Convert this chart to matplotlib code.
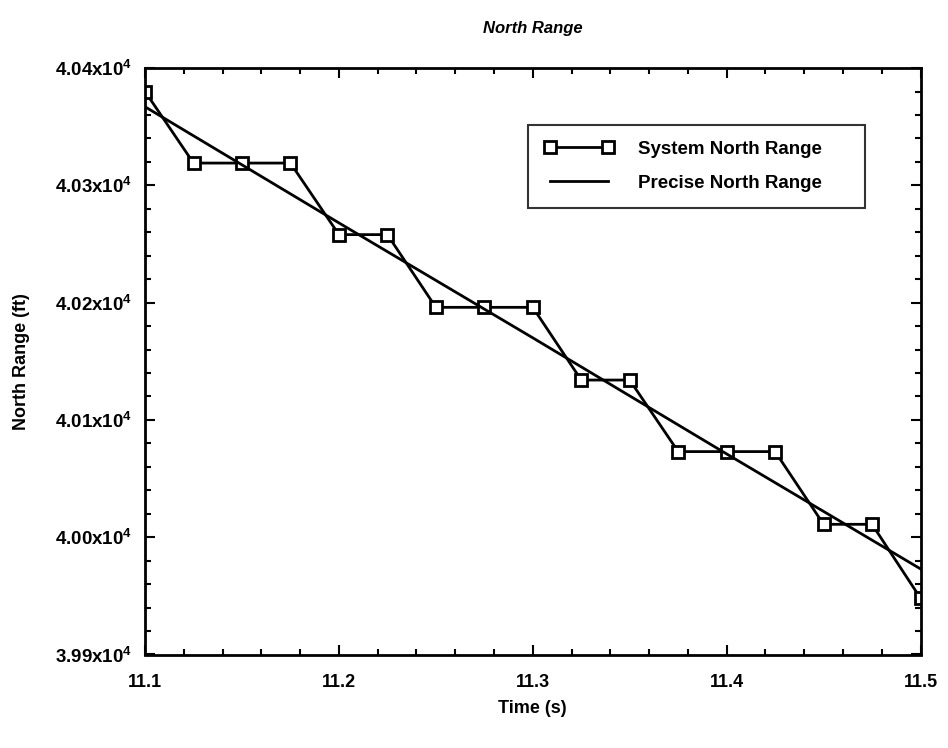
import numpy as np
import matplotlib.pyplot as plt
from matplotlib.ticker import MultipleLocator, FixedLocator, FixedFormatter

plt.rcParams['font.family'] = ['Liberation Sans', 'DejaVu Sans']
plt.rcParams['font.weight'] = 'bold'
plt.rcParams['mathtext.fontset'] = 'custom'
plt.rcParams['mathtext.rm'] = 'Liberation Sans:bold'
plt.rcParams['mathtext.default'] = 'rm'

# system (quantised) north range
t_sys = [11.1, 11.125, 11.15, 11.175, 11.2, 11.225, 11.25, 11.275, 11.3,
         11.325, 11.35, 11.375, 11.4, 11.425, 11.45, 11.475, 11.5]
n_sys = [40380, 40319, 40319, 40319, 40258, 40258, 40196, 40196, 40196,
         40134, 40134, 40073, 40073, 40073, 40011, 40011, 39948]

# precise north range
t_pre = [11.1, 11.2, 11.3, 11.4, 11.5]
n_pre = [40367, 40268, 40170, 40071, 39973]

y_ticks = [39900, 40000, 40100, 40200, 40300, 40400]
y_labels = [r'3.99x10$^{4}$', r'4.00x10$^{4}$', r'4.01x10$^{4}$',
            r'4.02x10$^{4}$', r'4.03x10$^{4}$', r'4.04x10$^{4}$']

fig = plt.figure(figsize=(9.48, 7.48), dpi=100)
ax = fig.add_axes([0.153, 0.125, 0.818, 0.784])

ax.plot(t_sys, n_sys, color='black', lw=2, marker='s', ms=9,
        mfc='white', mec='black', mew=2, label='System North Range')
ax.plot(t_pre, n_pre, color='black', lw=2, label='Precise North Range')

ax.set_xlim(11.1, 11.5)
ax.set_ylim(39900, 40400)
ax.xaxis.set_major_locator(MultipleLocator(0.1))
ax.xaxis.set_minor_locator(MultipleLocator(0.02))
ax.yaxis.set_major_locator(FixedLocator(y_ticks))
ax.yaxis.set_major_formatter(FixedFormatter(y_labels))
ax.yaxis.set_minor_locator(MultipleLocator(20))
ax.tick_params(which='both', direction='in', top=True, right=True, width=1.5)
ax.tick_params(which='major', length=7, labelsize=13.5)
ax.tick_params(axis='x', which='major', pad=14, labelsize=13)
ax.tick_params(axis='y', which='major', pad=9)
ax.tick_params(which='minor', length=4)
for s in ax.spines.values():
    s.set_linewidth(2)

ax.set_xlabel('Time (s)', fontsize=13, fontweight='bold')
ax.set_ylabel('North Range (ft)', fontsize=13, fontweight='bold')
ax.xaxis.set_label_coords(0.5, -0.077)
ax.yaxis.set_label_coords(-0.148, 0.5)
ax.set_title('North Range', fontsize=12, fontweight='bold', style='italic', pad=25)

leg = ax.legend(loc='upper left', bbox_to_anchor=(0.494, 0.903, 0.434, 0.0),
                mode='expand', fontsize=13.5, frameon=True, fancybox=False,
                edgecolor='black', borderpad=0.85, borderaxespad=0,
                numpoints=2, handlelength=3.7, handletextpad=1.3,
                labelspacing=0.9)
leg.get_frame().set_linewidth(1.5)

fig.savefig('out.png', dpi=100)
